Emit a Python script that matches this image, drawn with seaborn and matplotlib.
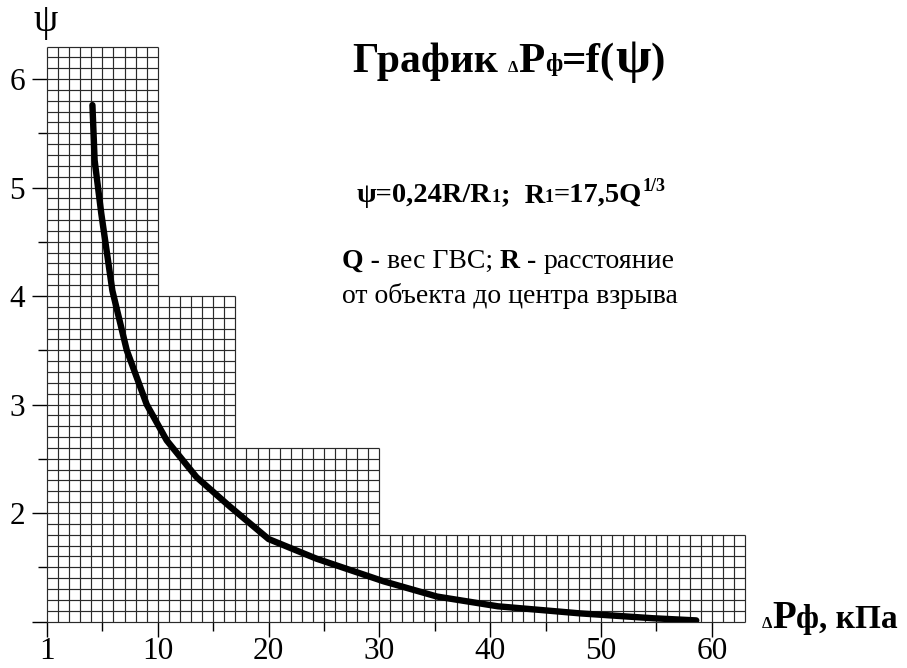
import matplotlib
matplotlib.use("Agg")
import matplotlib.pyplot as plt
import matplotlib.transforms as mtransforms
import numpy as np
import seaborn as sns

sns.set_style("white")
plt.rcParams["font.family"] = ["Liberation Serif", "DejaVu Serif"]
plt.rcParams["text.color"] = "black"
plt.rcParams["xtick.color"] = "black"
plt.rcParams["ytick.color"] = "black"

# ── Data ──────────────────────────────────────────────────────────────────────
dp_values = [4.1, 4.3, 4.9, 5.9, 7.2, 9.0, 10.8, 13.5, 16.5, 20.0,
             24.3, 30.4, 35.2, 40.7, 48.1, 54.7, 58.6]
psi_values = [5.76, 5.25, 4.76, 4.05, 3.50, 3.00, 2.67, 2.33, 2.06, 1.76,
              1.58, 1.37, 1.23, 1.14, 1.075, 1.03, 1.01]

# stepped graph-paper background: column edges and their heights
step_edges = [0, 10, 17, 30, 63]
step_tops = [6.3, 4.0, 2.6, 1.8]

x_ticks = [0, 10, 20, 30, 40, 50, 60]
x_tick_labels = ["1", "10", "20", "30", "40", "50", "60"]
y_ticks = [1, 2, 3, 4, 5, 6]
y_tick_labels = ["", "2", "3", "4", "5", "6"]

W, H = 907, 668


def fx(px):
    return px / W


def fy(py):
    return 1 - py / H


fig = plt.figure(figsize=(W / 100, H / 100), dpi=100)
ax = fig.add_axes([47 / W, 46.5 / H, 698 / W, 575 / H])
ax.set_xlim(0, 63)
ax.set_ylim(1, 6.3)
for s in ax.spines.values():
    s.set_visible(False)

# ── Graph paper ───────────────────────────────────────────────────────────────
grid_kw = dict(color="#2a2a2a", linewidth=0.85, clip_on=False, zorder=1)
for xv in range(0, step_edges[-1] + 1):
    top = max(t for a, b, t in zip(step_edges[:-1], step_edges[1:], step_tops)
              if a <= xv <= b)
    ax.vlines(xv, 1, top, **grid_kw)
for k in range(0, 54):
    yv = round(1 + k * 0.1, 2)
    right = max(b for b, t in zip(step_edges[1:], step_tops) if t >= yv - 1e-9)
    ax.hlines(yv, 0, right, **grid_kw)

# ── Curve ─────────────────────────────────────────────────────────────────────
sns.lineplot(x=dp_values, y=psi_values, color="black", linewidth=4.6,
             sort=False, ax=ax, zorder=3, solid_capstyle="round")

# ── Ticks ─────────────────────────────────────────────────────────────────────
ax.set_xticks(x_ticks, labels=x_tick_labels)
ax.set_xticks(np.arange(5, 60, 10), minor=True)
ax.set_yticks(y_ticks, labels=y_tick_labels)
ax.set_yticks(np.arange(1.5, 6.0, 1.0), minor=True)
ax.tick_params(which="major", direction="out", length=10.8, width=1.0,
               color="black", labelcolor="black", labelsize=22.5,
               bottom=True, left=True)
ax.tick_params(which="minor", direction="out", length=6.5, width=1.0,
               color="black", bottom=True, left=True)
ax.tick_params(axis="x", pad=0.5)
ax.tick_params(axis="y", pad=5)


# ── Rich text helper (mixed sizes on one baseline) ────────────────────────────
renderer = fig.canvas.get_renderer()


def rich_text(x, y, parts):
    offset = 0.0
    for part in parts:
        s, size, weight = part[:3]
        dy = part[3] if len(part) > 3 else 0
        tr = mtransforms.offset_copy(fig.transFigure, fig=fig, x=offset, y=dy,
                                     units="points")
        t = fig.text(x, y, s, transform=tr, fontsize=size, fontweight=weight,
                     va="baseline", ha="left", color="black")
        bb = t.get_window_extent(renderer)
        offset += bb.width * 72 / fig.dpi


fig.text(fx(46), fy(21), "ψ", fontsize=28, ha="center", va="center")

rich_text(fx(353), fy(72), [("График ", 30, "bold"), ("Δ", 12, "bold"),
                           ("P", 31, "bold"), ("ф", 18, "bold", 1),
                           ("=f(", 31, "bold"), ("ψ", 37, "bold"),
                           (")", 31, "bold")])

rich_text(fx(357), fy(202), [("ψ=0,24R/R", 20.5, "bold"), ("1", 13, "bold"),
                            (";  R", 20.5, "bold"), ("1", 13, "bold"),
                            ("=17,5Q", 20.5, "bold"), ("1/3", 13, "bold", 8)])

rich_text(fx(342), fy(268), [("Q - ", 20, "bold"), ("вес ГВС; ", 20, "normal"),
                            ("R - ", 20, "bold"), ("расстояние", 20, "normal")])
rich_text(fx(342), fy(303), [("от объекта до центра взрыва", 20, "normal")])

rich_text(fx(762), fy(628), [("Δ", 12, "bold"), ("P", 28, "bold"),
                            ("ф, кПа", 24, "bold")])

fig.savefig("out.png", dpi=100, facecolor="white")
